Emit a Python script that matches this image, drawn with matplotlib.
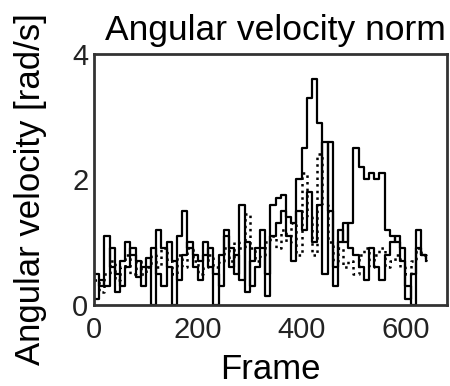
import numpy as np
import matplotlib
matplotlib.use("Agg")
import matplotlib.pyplot as plt

plt.rcParams["font.family"] = ["Liberation Sans", "DejaVu Sans"]

frames = np.arange(0, 650, 10)

# main solid trace
vel_a = [0.5, 0.3, 1.1, 0.6, 0.2, 0.7, 1.0, 0.8, 0.45, 0.6,
         0.75, 0.0, 1.2, 0.9, 0.6, 0.0, 1.1, 1.5, 0.9, 0.8,
         0.7, 1.0, 0.6, 0.0, 0.8, 1.2, 0.9, 0.5, 1.6, 0.2,
         0.7, 0.9, 1.2, 0.15, 1.6, 1.7, 1.75, 1.4, 1.3, 2.0,
         2.5, 3.3, 3.6, 2.9, 0.5, 2.6, 0.3, 1.2, 1.0, 1.3,
         2.5, 2.2, 2.0, 2.1, 2.0, 2.1, 1.2, 1.1, 1.0, 0.7,
         0.1, 0.5, 1.2, 0.8, 0.7]

# second solid trace
vel_b = [0.1, 0.4, 0.3, 0.9, 0.5, 0.3, 0.6, 0.9, 0.7, 0.3,
         0.6, 0.9, 0.5, 0.3, 1.0, 0.7, 0.4, 0.8, 1.0, 0.6,
         0.4, 0.8, 0.9, 0.5, 0.3, 1.1, 0.6, 0.8, 0.4, 1.0,
         0.3, 0.6, 0.9, 0.5, 1.1, 1.3, 1.5, 1.1, 0.7, 1.5,
         1.2, 1.8, 1.0, 1.6, 2.6, 1.5, 0.6, 1.0, 1.3, 0.9,
         0.8, 0.6, 0.4, 0.9, 0.6, 0.4, 0.8, 1.0, 1.1, 0.9,
         0.3, 0.0, 0.9, 0.8, 0.75]

# dotted trace
vel_c = [0.4, 0.2, 0.5, 0.7, 0.4, 0.6, 0.8, 0.5, 0.7, 0.5,
         0.6, 0.8, 0.6, 0.9, 0.7, 0.5, 0.8, 0.6, 0.9, 0.7,
         0.5, 0.6, 0.8, 0.6, 0.7, 0.9, 0.7, 1.0, 0.9, 1.45,
         0.9, 0.7, 0.8, 1.0, 1.1, 0.9, 1.2, 1.0, 1.3, 0.8,
         2.1, 1.4, 0.8, 2.4, 1.6, 1.0, 0.7, 0.9, 0.6, 0.7,
         0.5, 0.8, 0.9, 0.6, 0.8, 0.9, 0.6, 0.7, 0.8, 0.6,
         0.5, 0.7, 0.9, 0.8, 0.7]

fig = plt.figure(figsize=(4.5, 3.86), dpi=100)
ax = fig.add_axes([0.209, 0.21, 0.784, 0.65])

ax.plot(frames, vel_c, color="black", lw=1.8, ls=":", drawstyle="steps-post")
ax.plot(frames, vel_b, color="black", lw=1.6, drawstyle="steps-post")
ax.plot(frames, vel_a, color="black", lw=1.6, drawstyle="steps-post")

ax.set_xlim(0, 680)
ax.set_ylim(0, 4)
ax.set_xticks([0, 200, 400, 600])
ax.set_yticks([0, 2, 4])
ax.tick_params(length=0, labelsize=21, colors="#222222")
ax.tick_params(axis="x", pad=8)
ax.tick_params(axis="y", pad=4)
for s in ax.spines.values():
    s.set_linewidth(2)
    s.set_color("#333333")

ax.set_title("Angular velocity norm", fontsize=25.5, pad=10, x=0.514)
ax.set_xlabel("Frame", fontsize=25)
ax.xaxis.set_label_coords(0.5, -0.19)
ax.set_ylabel("Angular velocity [rad/s]", fontsize=25)
ax.yaxis.set_label_coords(-0.133, 0.46)

fig.savefig("out.png", dpi=100)
